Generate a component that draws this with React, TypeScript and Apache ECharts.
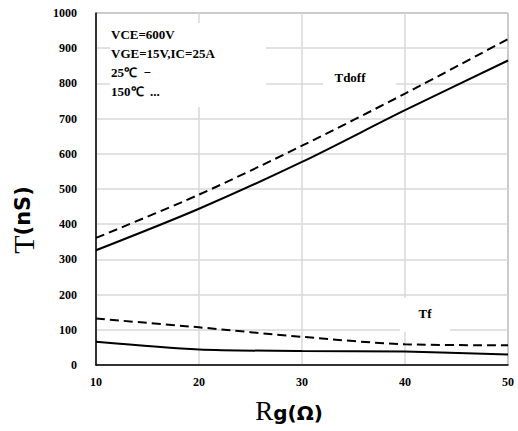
import React, { useEffect, useRef } from "react";
import * as echarts from "echarts";

// Gate resistance (Ω)
const rg = [10, 20, 30, 40, 50];
// Turn-off delay time (ns)
const tdoff25 = [326, 444, 577, 724, 865];
const tdoff150 = [361, 484, 623, 771, 926];
// Fall time (ns)
const tf25 = [66, 44, 40, 38, 30];
const tf150 = [132, 107, 80, 59, 56];

const conditions = ["VCE=600V", "VGE=15V,IC=25A", "25℃  −", "150℃  ..."];
const yTicks = [0, 100, 200, 300, 400, 500, 600, 700, 800, 900, 1000];
const xTicks = [10, 20, 30, 40, 50];

const SERIF = "'Liberation Serif', 'Times New Roman', serif";
const SANS = "'DejaVu Sans', 'Noto Sans', sans-serif";

function pairs(xs: number[], ys: number[]) {
  return xs.map((x, i) => [x, ys[i]]);
}

export default function App() {
  const ref = useRef<HTMLDivElement>(null);

  useEffect(() => {
    if (!ref.current) return;
    const chart = echarts.init(ref.current, undefined, { renderer: "svg" });

    const solid = { color: "#000", width: 2, type: "solid" as const };
    const dashed = { color: "#000", width: 2, type: [9, 5] as any };

    const mkSeries = (name: string, ys: number[], lineStyle: any) => ({
      name,
      type: "line",
      data: pairs(rg, ys),
      smooth: 0.3,
      showSymbol: false,
      symbol: "none",
      lineStyle,
      z: 3,
    });

    const tickLabel = {
      color: "#000",
      fontFamily: SERIF,
      fontWeight: "bold" as const,
      fontSize: 12,
      formatter: (v: number) => String(v),
    };

    chart.setOption({
      animation: false,
      backgroundColor: "#fff",
      grid: {
        left: 96,
        right: 10,
        top: 13,
        bottom: 66,
        show: true,
        borderColor: "#444",
        borderWidth: 1,
      },
      xAxis: {
        type: "value",
        min: xTicks[0],
        max: xTicks[xTicks.length - 1],
        interval: 10,
        axisLine: { show: true, lineStyle: { color: "#000", width: 1.5 } },
        axisTick: { show: false },
        splitLine: { show: true, lineStyle: { color: "#d9d9d9", width: 1.5 } },
        axisLabel: { ...tickLabel, margin: 11 },
      },
      yAxis: {
        type: "value",
        min: yTicks[0],
        max: yTicks[yTicks.length - 1],
        interval: 100,
        axisLine: { show: true, lineStyle: { color: "#000", width: 1.5 } },
        axisTick: { show: false },
        splitLine: { show: true, lineStyle: { color: "#d9d9d9", width: 1.5 } },
        axisLabel: { ...tickLabel, margin: 19 },
      },
      graphic: [
        // white boxes behind the annotations
        { type: "rect", z: 1, shape: { x: 110, y: 23, width: 156, height: 84 }, style: { fill: "#fff" } },
        { type: "rect", z: 1, shape: { x: 323, y: 64, width: 73, height: 32 }, style: { fill: "#fff" } },
        { type: "rect", z: 1, shape: { x: 400, y: 298, width: 50, height: 34 }, style: { fill: "#fff" } },
        ...conditions.map((t, i) => ({
          type: "text",
          z: 4,
          x: 111,
          y: 34 + i * 19,
          style: {
            text: t,
            fill: "#000",
            fontFamily: SERIF,
            fontWeight: "bold",
            fontSize: 13,
            verticalAlign: "middle",
          },
        })),
        {
          type: "text",
          z: 4,
          x: 350,
          y: 77,
          style: {
            text: "Tdoff",
            fill: "#000",
            fontFamily: SERIF,
            fontWeight: "bold",
            fontSize: 13,
            align: "center",
            verticalAlign: "middle",
          },
        },
        {
          type: "text",
          z: 4,
          x: 425,
          y: 313,
          style: {
            text: "Tf",
            fill: "#000",
            fontFamily: SERIF,
            fontWeight: "bold",
            fontSize: 13,
            align: "center",
            verticalAlign: "middle",
          },
        },
        // axis titles
        {
          type: "text",
          z: 4,
          x: 23,
          y: 220,
          rotation: Math.PI / 2,
          style: {
            text: "{a|T}{b|(nS)}",
            align: "center",
            verticalAlign: "middle",
            rich: {
              a: { fontFamily: SERIF, fontSize: 30, fill: "#000", color: "#000" },
              b: { fontFamily: SANS, fontWeight: "bold", fontSize: 21, fill: "#000", color: "#000" },
            },
          },
        },
        {
          type: "text",
          z: 4,
          x: 289,
          y: 411,
          style: {
            text: "{a|R}{b|g(Ω)}",
            align: "center",
            verticalAlign: "middle",
            rich: {
              a: { fontFamily: SERIF, fontSize: 27, fill: "#000", color: "#000" },
              b: { fontFamily: SANS, fontWeight: "bold", fontSize: 20, fill: "#000", color: "#000", padding: [4, 0, 0, 0] },
            },
          },
        },
      ],
      series: [
        mkSeries("Tdoff 25℃", tdoff25, solid),
        mkSeries("Tdoff 150℃", tdoff150, dashed),
        mkSeries("Tf 25℃", tf25, solid),
        mkSeries("Tf 150℃", tf150, dashed),
      ],
    });

    return () => chart.dispose();
  }, []);

  return <div ref={ref} style={{ width: 518, height: 431, position: "absolute", left: 0, top: 0 }} />;
}
